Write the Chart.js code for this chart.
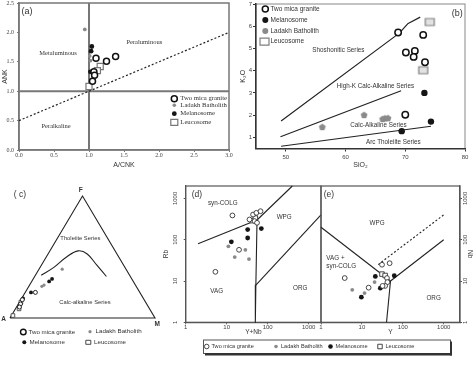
<!DOCTYPE html>
<html><head><meta charset="utf-8">
<script src="https://cdn.jsdelivr.net/npm/chart.js@4.4.1/dist/chart.umd.min.js"></script>
<style>
html,body{margin:0;padding:0;background:#fff;}
#wrap{position:relative;width:474px;height:366px;overflow:hidden;background:#fff;}
#wrap canvas{position:absolute;left:0;top:0;}
</style></head><body>
<div id="wrap">
<canvas id="ca" width="474" height="366"></canvas>
<canvas id="cb" width="474" height="366"></canvas>
<canvas id="cc" width="474" height="366"></canvas>
<canvas id="cd" width="474" height="366"></canvas>
<canvas id="ce" width="474" height="366"></canvas>
</div>
<script>
// ================= DATA =================
// (a) A/CNK vs ANK
const aTwoMicaACNK=[1.10,1.25,1.38,1.07,1.08,1.05];
const aTwoMicaANK =[1.56,1.51,1.59,1.33,1.27,1.17];
const aLadakhACNK =[0.94,1.01,1.02];
const aLadakhANK  =[2.05,1.60,1.52];
const aMelanoACNK =[1.04,1.03,1.02];
const aMelanoANK  =[1.76,1.68,1.33];
const aLeucoACNK  =[1.16,1.12,1.00];
const aLeucoANK   =[1.42,1.35,1.08];
const aTicksX=[0,0.5,1,1.5,2,2.5,3];
const aTicksY=[0,0.5,1,1.5,2,2.5];
const aVertLineX=[1,1],   aVertLineY=[0,2.5];
const aHorzLineX=[0,3],   aHorzLineY=[1,1];
const aDivLineX =[0,3],   aDivLineY =[0.5,2.0];

// (b) SiO2 vs K2O
const bTwoMicaSiO2=[68.8,73.0,70.1,71.6,71.4,73.3,70.0];
const bTwoMicaK2O =[5.72,5.61,4.82,4.89,4.62,4.38,2.02];
const bMelanoSiO2 =[73.2,74.3,69.4];
const bMelanoK2O  =[3.00,1.71,1.28];
const bLadakhSiO2 =[56.1,63.1,66.2,66.6,67.1];
const bLadakhK2O  =[1.46,2.00,1.82,1.85,1.86];
const bLeucoSiO2  =[74.1,73.0];
const bLeucoK2O   =[6.19,4.02];
const bTicksX=[50,60,70,80];
const bTicksY=[1,2,3,4,5,6,7];
const bShoshLineX=[49.2,69.0,70.4,72.5], bShoshLineY=[1.74,5.69,6.11,6.41];
const bHighKLineX=[49.1,69.3],          bHighKLineY=[1.03,3.10];
const bTholLineX =[49.2,74.3],          bTholLineY =[0.60,1.50];

// (c) AFM ternary (A, F, M in %)
const cTwoMicaA=[72,84,87,89], cTwoMicaF=[21,15,11.5,9], cTwoMicaM=[7,1,1.5,2];
const cLadakhA =[44,65,63],    cLadakhF =[40,26,27],    cLadakhM =[16,9,10];
const cMelanoA =[55,58,75,83], cMelanoF =[32,30,21,16], cMelanoM =[13,12,4,1];
const cLeucoA  =[97,90,86],    cLeucoF  =[2,7.5,13],    cLeucoM  =[1,2.5,1];
const cCurveA=[61,49,36,25.5,20.5,18.5,16.5];
const cCurveF=[35,41.5,50,55,52.5,43.5,34];
const cCurveM=[4,9.5,14,19.5,27,38,49.5];
const cTriA=[100,0,0,100], cTriF=[0,0,100,0], cTriM=[0,100,0,0];

// (d) Y+Nb vs Rb
const dTwoMicaYNb=[13.8,5.3,20,44,53,67,36,48,55];
const dTwoMicaRb =[387,16.7,57,407,448,490,309,282,257];
const dMelanoYNb =[13,32.5,32.5,70];
const dMelanoRb  =[89,176,110,186];
const dLadakhYNb =[11,15.7,28.6,35];
const dLadakhRb  =[69,38,57,34];
const dLeucoYNb  =[42,50];
const dLeucoRb   =[290,335];
const logTicks=[1,10,100,1000];
const dVagColgX=[2,55],          dVagColgY=[80,300];
const dVagWpgX =[55,51.5,50],    dVagWpgY =[300,8,1];
const dWpgOrgX =[51.5,2000],     dWpgOrgY =[8,400];
const dColgWpgX=[55,400],        dColgWpgY=[300,2000];

// (e) Y vs Nb
const eTwoMicaY =[3.8,14.6,31,47.6,41,42,37,32];
const eTwoMicaNb=[11.8,6.9,24.8,27,11.8,9.4,7.6,7.6];
const eMelanoY  =[9.7,21.3,28.2,61.8];
const eMelanoNb =[4.06,12.9,6.7,13.4];
const eLadakhY  =[5.8,11.6,20.4];
const eLadakhNb =[6.1,5.1,9.4];
const eLeucoY   =[31,37];
const eLeucoNb  =[14.7,13.6];
const eVagWpgX=[1,50],     eVagWpgY=[200,10];
const eVagOrgX=[40,50],    eVagOrgY=[1,10];
const eWpgOrgX=[50,1000],  eWpgOrgY=[10,100];
const eDashX  =[25,1000],  eDashY  =[25,400];

// ================= HELPERS =================
const SANS='"Liberation Sans", Arial, sans-serif';
const SERIF='"Liberation Serif", "Times New Roman", serif';
Chart.defaults.font.family=SANS;
Chart.defaults.color='#333';
const GRAY='#8a8a8a', BLACK='#151515';

function xy(xs,ys){return xs.map((x,i)=>({x:x,y:ys[i]}));}
function tern(A,F,M){return A.map((a,i)=>{const s=a+F[i]+M[i];const f=F[i]/s,m=M[i]/s;return {x:m+f/2,y:f*Math.sqrt(3)/2};});}

function drawMark(ctx,m,x,y){
  ctx.save();ctx.beginPath();
  if(m.s==='circle'){ctx.arc(x,y,m.r,0,Math.PI*2);}
  else if(m.s==='rect'){ctx.rect(x-m.w/2,y-m.h/2,m.w,m.h);}
  else if(m.s==='pent'){for(let i=0;i<5;i++){const a=-Math.PI/2+i*2*Math.PI/5;ctx.lineTo(x+m.r*Math.cos(a),y+m.r*Math.sin(a));}ctx.closePath();}
  if(m.fill){ctx.fillStyle=m.fill;ctx.fill();}
  if(m.stroke){ctx.strokeStyle=m.stroke;ctx.lineWidth=m.lw||1;ctx.stroke();}
  ctx.restore();
}
function markImg(m){
  const s=Math.ceil(Math.max(m.w||0,m.h||0,2*(m.r||0))+(m.lw||0)+2);
  const c=document.createElement('canvas');c.width=s;c.height=s;
  drawMark(c.getContext('2d'),m,s/2,s/2);return c;
}
function makeDeco(cfg){
  return {id:'deco',
    beforeDraw(chart){
      const ctx=chart.ctx,a=chart.chartArea;
      if(cfg.frame){ctx.save();ctx.strokeStyle=cfg.frame.color;ctx.lineWidth=cfg.frame.width;
        ctx.strokeRect(a.left,a.top,a.right-a.left,a.bottom-a.top);ctx.restore();}
    },
    afterDraw(chart){
      const ctx=chart.ctx,sx=chart.scales.x,sy=chart.scales.y;
      (cfg.texts||[]).forEach(t=>{
        ctx.save();ctx.font=t.font;ctx.fillStyle=t.color||'#333';ctx.textAlign=t.align||'center';ctx.textBaseline='middle';
        ctx.translate(sx.getPixelForValue(t.x),sy.getPixelForValue(t.y));
        if(t.rot)ctx.rotate(t.rot);
        ctx.fillText(t.text,0,0);ctx.restore();
      });
      if(cfg.box){const b=cfg.box;ctx.save();
        ctx.fillStyle='#fff';ctx.fillRect(b.x1,b.y1,b.x2-b.x1,b.y2-b.y1);
        ctx.strokeStyle='#555';ctx.lineWidth=1;ctx.strokeRect(b.x1+0.5,b.y1+0.5,b.x2-b.x1,b.y2-b.y1);
        ctx.fillStyle='#333';ctx.fillRect(b.x1+2,b.y2,b.x2-b.x1,2.5);ctx.fillRect(b.x2,b.y1+2,2,b.y2-b.y1+0.5);
        ctx.restore();}
      (cfg.legend||[]).forEach(l=>{
        drawMark(ctx,l.m,l.x,l.y);
        ctx.save();ctx.font=l.font;ctx.fillStyle=l.color||'#333';ctx.textAlign='left';ctx.textBaseline='middle';
        ctx.fillText(l.text,l.tx,l.y);ctx.restore();
      });
    }};
}
function axis(o){
  const isY=o.axis==='y';
  return {type:o.type||'linear',position:o.pos,min:o.min,max:o.max,
    afterBuildTicks:sc=>{sc.ticks=o.ticks.map(v=>({value:v}));},
    ticks:{autoSkip:false,minRotation:o.rot||0,maxRotation:o.rot||0,padding:o.pad,color:o.tickColor||'#444',
      font:o.tickFont,callback:o.fmt||(v=>String(v)),crossAlign:o.rot?'center':'near'},
    grid:{drawOnChartArea:false,drawTicks:true,tickLength:o.tl,color:o.tickLineColor||'#555',tickWidth:1},
    border:{display:true,color:o.borderColor||'#555',width:o.borderWidth||1},
    title:{display:!!o.title,text:o.title,font:o.titleFont,color:'#333',padding:0},
    afterFit:sc=>{if(isY)sc.width=o.size;else sc.height=o.size;
      sc.paddingLeft=0;sc.paddingRight=0;sc.paddingTop=0;sc.paddingBottom=0;}
  };
}
function pset(data,st){return Object.assign({data:data,showLine:false,clip:false},st);}
function lset(data,st){return Object.assign({data:data,showLine:true,pointRadius:0,fill:false,clip:false,borderJoinStyle:'round',borderCapStyle:'butt'},st);}
function base(padding,scales){return {responsive:false,animation:false,events:[],
  layout:{autoPadding:false,padding:padding},
  plugins:{legend:{display:false},tooltip:{enabled:false}},scales:scales};}

// ================= (a) =================
const aOpen={pointStyle:'circle',pointRadius:3,borderColor:'#111',backgroundColor:'#fff',borderWidth:1.5};
const aSq={pointStyle:'rect',pointRadius:4.3,borderColor:'#777',backgroundColor:'#fff',borderWidth:1.2};
const aBlack={pointStyle:'circle',pointRadius:2.4,backgroundColor:BLACK,borderWidth:0};
const aGray={pointStyle:'circle',pointRadius:1.9,backgroundColor:GRAY,borderWidth:0};
new Chart(document.getElementById('ca'),{
  type:'scatter',
  data:{datasets:[
    pset(xy(aTwoMicaACNK,aTwoMicaANK),aOpen),
    pset(xy(aLeucoACNK,aLeucoANK),aSq),
    pset(xy(aMelanoACNK,aMelanoANK),aBlack),
    pset(xy(aLadakhACNK,aLadakhANK),aGray),
    lset(xy(aDivLineX,aDivLineY),{borderColor:'#222',borderWidth:1.2,borderDash:[2,2]}),
    lset(xy(aVertLineX,aVertLineY),{borderColor:'#777',borderWidth:2}),
    lset(xy(aHorzLineX,aHorzLineY),{borderColor:'#777',borderWidth:2})
  ]},
  options:base({left:1,top:3,right:245,bottom:197},{
    x:axis({axis:'x',pos:'bottom',min:0,max:3,ticks:aTicksX,fmt:v=>v.toFixed(1),tickFont:{family:SERIF,size:6},tl:2,pad:0,
      title:'A/CNK',titleFont:{family:SANS,size:7},size:19,borderColor:'#777',borderWidth:1.5,tickLineColor:'#777'}),
    y:axis({axis:'y',pos:'left',min:0,max:2.5,ticks:aTicksY,fmt:v=>v.toFixed(1),tickFont:{family:SERIF,size:6},tl:2,pad:3,
      title:'ANK',titleFont:{family:SANS,size:7},size:18,borderColor:'#777',borderWidth:1.5,tickLineColor:'#777'})
  }),
  plugins:[makeDeco({frame:{color:'#777',width:1.5},
    texts:[
      {x:0.557,y:1.65,text:'Metaluminous',font:'6.5px '+SERIF},
      {x:1.79,y:1.84,text:'Peraluminous',font:'6.5px '+SERIF},
      {x:0.53,y:0.41,text:'Peralkaline',font:'6.5px '+SERIF},
      {x:0.036,y:2.35,text:'(a)',align:'left',font:'9px '+SANS}
    ],
    legend:[
      {m:{s:'circle',r:3,stroke:'#111',fill:'#fff',lw:1.5},x:174.3,y:98.7,tx:180.3,text:'Two mica granite',font:'6.7px '+SERIF},
      {m:{s:'circle',r:1.8,fill:GRAY},x:174.3,y:105.3,tx:180.3,text:'Ladakh Batholith',font:'6.7px '+SERIF},
      {m:{s:'circle',r:2.4,fill:BLACK},x:174.3,y:113.7,tx:180.3,text:'Melanosome',font:'6.7px '+SERIF},
      {m:{s:'rect',w:7,h:6,stroke:'#777',fill:'#fff',lw:1.2},x:174.3,y:122.3,tx:180.3,text:'Leucosome',font:'6.7px '+SERIF}
    ]})]
});

// ================= (b) =================
const pentImg=markImg({s:'pent',r:3.6,fill:GRAY});
const bRectImg=markImg({s:'rect',w:9,h:7,fill:'#e2e2e2',stroke:'#808080',lw:1.2});
new Chart(document.getElementById('cb'),{
  type:'scatter',
  data:{datasets:[
    pset(xy(bTwoMicaSiO2,bTwoMicaK2O),{pointStyle:'circle',pointRadius:3.2,borderColor:'#111',backgroundColor:'#fff',borderWidth:1.5}),
    pset(xy(bLeucoSiO2,bLeucoK2O),{pointStyle:bRectImg}),
    pset(xy(bMelanoSiO2,bMelanoK2O),{pointStyle:'circle',pointRadius:3.2,backgroundColor:BLACK,borderWidth:0}),
    pset(xy(bLadakhSiO2,bLadakhK2O),{pointStyle:pentImg}),
    lset(xy(bShoshLineX,bShoshLineY),{borderColor:'#222',borderWidth:1.2}),
    lset(xy(bHighKLineX,bHighKLineY),{borderColor:'#222',borderWidth:1.2}),
    lset(xy(bTholLineX,bTholLineY),{borderColor:'#222',borderWidth:1.2})
  ]},
  options:base({left:238.8,top:4,right:9,bottom:196.8},{
    x:axis({axis:'x',pos:'bottom',min:45,max:80,ticks:bTicksX,tickFont:{size:6},tl:3,pad:2,
      title:'SiO₂',titleFont:{size:7},size:20.7,borderColor:'#333',borderWidth:1.5,tickLineColor:'#333'}),
    y:axis({axis:'y',pos:'left',min:0.5,max:7,ticks:bTicksY,tickFont:{size:6},tl:3,pad:1,
      title:'K₂O',titleFont:{size:7},size:17.2,borderColor:'#333',borderWidth:1.5,tickLineColor:'#333'})
  }),
  plugins:[makeDeco({frame:{color:'#888',width:1},
    texts:[
      {x:58.8,y:4.94,text:'Shoshonitic Series',font:'6.3px '+SANS},
      {x:65.0,y:3.32,text:'High-K Calc-Alkaline Series',font:'6.3px '+SANS},
      {x:65.5,y:1.53,text:'Calc-Alkaline Series',font:'6.3px '+SANS},
      {x:68.0,y:0.79,text:'Arc Tholeiite Series',font:'6.3px '+SANS},
      {x:78.7,y:6.56,text:'(b)',font:'9px '+SANS}
    ],
    legend:[
      {m:{s:'circle',r:3,stroke:'#111',fill:'#fff',lw:1.5},x:265.3,y:9,tx:270.5,text:'Two mica granite',font:'6.5px '+SANS},
      {m:{s:'circle',r:3,fill:BLACK},x:265.3,y:20,tx:270.5,text:'Melanosome',font:'6.5px '+SANS},
      {m:{s:'circle',r:3,fill:GRAY},x:265.3,y:31,tx:270.5,text:'Ladakh Batholith',font:'6.5px '+SANS},
      {m:{s:'rect',w:9,h:7,fill:'#fff',stroke:'#808080',lw:1.2},x:264.5,y:41.7,tx:270.5,text:'Leucosome',font:'6.5px '+SANS}
    ]})]
});

// ================= (c) =================
new Chart(document.getElementById('cc'),{
  type:'scatter',
  data:{datasets:[
    pset(tern(cTwoMicaA,cTwoMicaF,cTwoMicaM),{pointStyle:'circle',pointRadius:2,borderColor:'#222',backgroundColor:'#fff',borderWidth:1}),
    pset(tern(cLeucoA,cLeucoF,cLeucoM),{pointStyle:'rect',pointRadius:2.6,borderColor:'#444',backgroundColor:'#fff',borderWidth:0.9}),
    pset(tern(cMelanoA,cMelanoF,cMelanoM),{pointStyle:'circle',pointRadius:1.9,backgroundColor:BLACK,borderWidth:0}),
    pset(tern(cLadakhA,cLadakhF,cLadakhM),{pointStyle:'circle',pointRadius:1.6,backgroundColor:GRAY,borderWidth:0}),
    lset(tern(cCurveA,cCurveF,cCurveM),{borderColor:'#222',borderWidth:1.1,tension:0.4}),
    lset(tern(cTriA,cTriF,cTriM),{borderColor:'#222',borderWidth:1.1,borderJoinStyle:'miter'})
  ]},
  options:base({left:10,top:196,right:319,bottom:48},{
    x:{type:'linear',display:false,min:0,max:1},
    y:{type:'linear',display:false,min:0,max:0.866}
  }),
  plugins:[makeDeco({
    texts:[
      {x:0.488,y:0.91,text:'F',font:'bold 6.5px '+SANS},
      {x:-0.045,y:-0.005,text:'A',font:'bold 6.5px '+SANS},
      {x:1.015,y:-0.045,text:'M',font:'bold 6.5px '+SANS},
      {x:0.485,y:0.566,text:'Tholeiite Series',font:'5.8px '+SANS},
      {x:0.517,y:0.111,text:'Calc-alkaline Series',font:'5.8px '+SANS},
      {x:0.069,y:0.873,text:'( c)',font:'8.5px '+SANS}
    ],
    legend:[
      {m:{s:'circle',r:2.8,stroke:'#111',fill:'#fff',lw:1.4},x:23.3,y:332,tx:28.5,text:'Two mica granite',font:'6.2px '+SANS},
      {m:{s:'circle',r:1.6,fill:GRAY},x:90,y:331.7,tx:95.5,text:'Ladakh Batholith',font:'6.2px '+SANS},
      {m:{s:'circle',r:2,fill:BLACK},x:24.3,y:342.3,tx:29.5,text:'Melanosome',font:'6.2px '+SANS},
      {m:{s:'rect',w:5,h:4,stroke:'#333',fill:'#fff',lw:0.9},x:88.3,y:342.3,tx:94,text:'Leucosome',font:'6.2px '+SANS}
    ]})]
});

// ================= (d) =================
const smOpen={pointStyle:'circle',pointRadius:2.4,borderColor:'#333',backgroundColor:'#fff',borderWidth:0.9};
const smSq={pointStyle:'rect',pointRadius:3.2,borderColor:'#333',backgroundColor:'#fff',borderWidth:0.9};
const smBlack={pointStyle:'circle',pointRadius:2.4,backgroundColor:BLACK,borderWidth:0};
const smGray={pointStyle:'circle',pointRadius:1.9,backgroundColor:GRAY,borderWidth:0};
const lnBlack={borderColor:'#222',borderWidth:1.1};
new Chart(document.getElementById('cd'),{
  type:'scatter',
  data:{datasets:[
    pset(xy(dTwoMicaYNb,dTwoMicaRb),smOpen),
    pset(xy(dLeucoYNb,dLeucoRb),smSq),
    pset(xy(dMelanoYNb,dMelanoRb),smBlack),
    pset(xy(dLadakhYNb,dLadakhRb),smGray),
    lset(xy(dVagColgX,dVagColgY),lnBlack),
    lset(xy(dVagWpgX,dVagWpgY),lnBlack),
    lset(xy(dWpgOrgX,dWpgOrgY),lnBlack),
    lset(xy(dColgWpgX,dColgWpgY),lnBlack)
  ]},
  options:base({left:162,top:186,right:153,bottom:29.7},{
    x:axis({axis:'x',type:'logarithmic',pos:'bottom',min:1,max:2000,ticks:logTicks,tickFont:{size:6},tl:2,pad:-1,
      title:'Y+Nb',titleFont:{size:6.5},size:14,borderColor:'#555',borderWidth:1.2}),
    y:axis({axis:'y',type:'logarithmic',pos:'left',min:1,max:2000,ticks:logTicks,tickFont:{size:6},tl:2,pad:2,rot:90,
      title:'Rb',titleFont:{size:6.5},size:23.7,borderColor:'#555',borderWidth:1.2})
  }),
  plugins:[makeDeco({frame:{color:'#555',width:1.2},
    texts:[
      {x:1.40,y:1250,text:'(d)',align:'left',font:'8.5px '+SANS},
      {x:8.03,y:755,text:'syn-COLG',font:'6.3px '+SANS},
      {x:253,y:359,text:'WPG',font:'6.3px '+SANS},
      {x:5.73,y:5.78,text:'VAG',font:'6.3px '+SANS},
      {x:623,y:6.7,text:'ORG',font:'6.3px '+SANS}
    ]})]
});

// ================= (e) =================
new Chart(document.getElementById('ce'),{
  type:'scatter',
  data:{datasets:[
    pset(xy(eTwoMicaY,eTwoMicaNb),smOpen),
    pset(xy(eLeucoY,eLeucoNb),smSq),
    pset(xy(eMelanoY,eMelanoNb),smBlack),
    pset(xy(eLadakhY,eLadakhNb),smGray),
    lset(xy(eVagWpgX,eVagWpgY),lnBlack),
    lset(xy(eVagOrgX,eVagOrgY),lnBlack),
    lset(xy(eWpgOrgX,eWpgOrgY),lnBlack),
    lset(xy(eDashX,eDashY),{borderColor:'#222',borderWidth:1.1,borderDash:[2,2]})
  ]},
  options:base({left:321,top:186,right:0,bottom:29.7},{
    x:axis({axis:'x',type:'logarithmic',pos:'bottom',min:1,max:2500,ticks:logTicks,tickFont:{size:6},tl:2,pad:-1,
      title:'Y',titleFont:{size:6.5},size:14,borderColor:'#555',borderWidth:1.2}),
    y:axis({axis:'y',type:'logarithmic',pos:'right',min:1,max:2000,ticks:logTicks,tickFont:{size:6},tl:2,pad:-3,rot:90,
      title:'Nb',titleFont:{size:6.5},size:14,borderColor:'#555',borderWidth:1.2})
  }),
  plugins:[makeDeco({frame:{color:'#555',width:1.2},
    texts:[
      {x:1.16,y:1250,text:'(e)',align:'left',font:'8.5px '+SANS},
      {x:23.4,y:256,text:'WPG',font:'6.3px '+SANS},
      {x:1.35,y:36,text:'VAG +',align:'left',font:'6.3px '+SANS},
      {x:1.35,y:23.4,text:'syn-COLG',align:'left',font:'6.3px '+SANS},
      {x:566,y:3.84,text:'ORG',font:'6.3px '+SANS}
    ],
    box:{x1:203,y1:339.5,x2:450,y2:353},
    legend:[
      {m:{s:'circle',r:2.3,stroke:'#333',fill:'#fff',lw:0.9},x:206.7,y:346.5,tx:211.5,text:'Two mica granite',font:'5.6px '+SANS},
      {m:{s:'circle',r:1.8,fill:GRAY},x:276,y:346.5,tx:281,text:'Ladakh Batholith',font:'5.6px '+SANS},
      {m:{s:'circle',r:2.3,fill:BLACK},x:330.5,y:346.5,tx:335.5,text:'Melanosome',font:'5.6px '+SANS},
      {m:{s:'rect',w:4.5,h:4.5,stroke:'#333',fill:'#fff',lw:0.9},x:380,y:346.5,tx:385.5,text:'Leucosome',font:'5.6px '+SANS}
    ]})]
});
</script>
</body></html>
